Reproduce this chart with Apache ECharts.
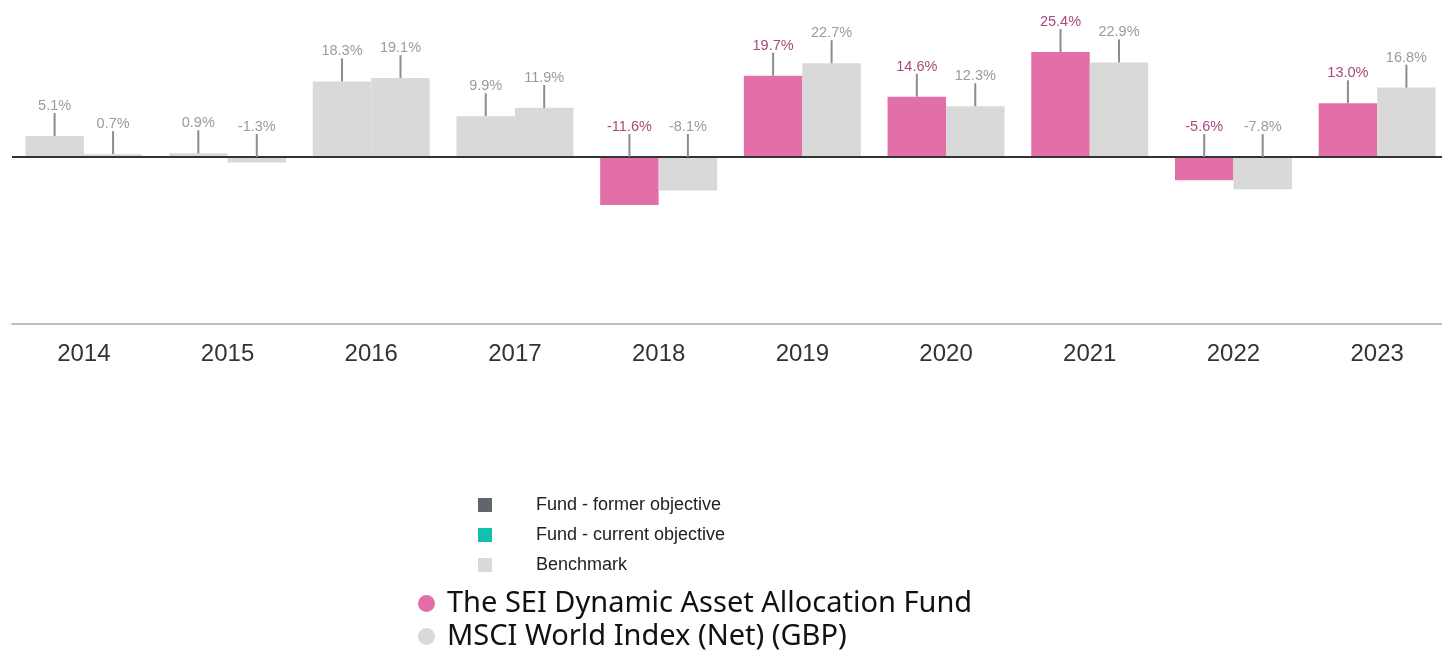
<!DOCTYPE html>
<html>
<head>
<meta charset="utf-8">
<script src="https://cdn.jsdelivr.net/npm/echarts@6/dist/echarts.min.js"></script>
<style>
  html, body { margin: 0; padding: 0; background: #fff; }
  #chart { width: 1442px; height: 651px; }
</style>
</head>
<body>
<div id="chart"></div>
<script>
var years = ['2014', '2015', '2016', '2017', '2018', '2019', '2020', '2021', '2022', '2023'];
var fundValues = [5.1, 0.9, 18.3, 9.9, -11.6, 19.7, 14.6, 25.4, -5.6, 13.0];
var benchValues = [0.7, -1.3, 19.1, 11.9, -8.1, 22.7, 12.3, 22.9, -7.8, 16.8];
var fundLaunchYear = '2018'; // before this the fund bar is drawn grey

var fundName = 'The SEI Dynamic Asset Allocation Fund';
var benchName = 'MSCI World Index (Net) (GBP)';

var pink = '#e36fa9';
var grey = '#d9d9d9';
var gapRatio = 0.186;

var chart = echarts.init(document.getElementById('chart'));

// label + leader line above each bar
var labelData = [];
years.forEach(function (y, i) {
  labelData.push([i, fundValues[i], 0]);
  labelData.push([i, benchValues[i], 1]);
});

function renderLabel(params, api) {
  var cat = api.value(0);
  var v = api.value(1);
  var side = api.value(2);
  var band = api.size([1, 0])[0];
  var pt = api.coord([cat, Math.max(v, 0)]);
  var x = pt[0] + (side === 0 ? -1 : 1) * band * (1 - gapRatio) / 4;
  var y = pt[1];
  var isPink = side === 0 && years[cat] >= fundLaunchYear;
  return {
    type: 'group',
    children: [
      { type: 'line', shape: { x1: x, y1: y, x2: x, y2: y - 23 },
        style: { stroke: '#8c8c8c', lineWidth: 2 } },
      { type: 'text', x: x, y: y - 30,
        style: { text: v.toFixed(1) + '%', fill: isPink ? '#a94a7d' : '#9b9b9b',
                 font: '14.5px "Liberation Sans", Arial', align: 'center', verticalAlign: 'middle' } }
    ]
  };
}

function seriesLegend(name, top) {
  return {
    orient: 'vertical',
    left: 418,
    top: top,
    padding: 0,
    itemWidth: 17,
    itemHeight: 17,
    selectedMode: false,
    icon: 'circle',
    textStyle: { fontSize: 29, color: '#111', fontFamily: '"Noto Sans"', padding: [0, 0, 0, 7] },
    data: [name]
  };
}

var option = {
  animation: false,
  grid: { left: 12, width: 1437, top: 0, bottom: 327, outerBoundsMode: 'none' },
  legend: [
    {
      orient: 'vertical',
      left: 478,
      top: 496,
      padding: 0,
      itemWidth: 14,
      itemHeight: 14,
      itemGap: 12,
      selectedMode: false,
      textStyle: { fontSize: 18, color: '#222', fontFamily: '"Liberation Sans", Arial', padding: [0, 0, 0, 39] },
      data: [
        { name: 'Fund - former objective', icon: 'rect' },
        { name: 'Fund - current objective', icon: 'rect' },
        { name: 'Benchmark', icon: 'rect' }
      ]
    },
    seriesLegend(fundName, 589),
    seriesLegend(benchName, 622)
  ],
  xAxis: {
    type: 'category',
    data: years,
    axisLine: { onZero: false, lineStyle: { color: '#c0c0c0', width: 2 } },
    axisTick: { show: false },
    axisLabel: { fontSize: 24, color: '#333', margin: 18, fontFamily: '"Liberation Sans", Arial' }
  },
  yAxis: {
    type: 'value',
    min: -40.4,
    max: 38,
    show: false,
    splitLine: { show: false }
  },
  series: [
    {
      name: fundName,
      type: 'bar',
      barGap: 0,
      barCategoryGap: (gapRatio * 100) + '%',
      itemStyle: { color: pink },
      data: fundValues.map(function (v, i) {
        return years[i] < fundLaunchYear ? { value: v, itemStyle: { color: grey } } : v;
      })
    },
    {
      name: benchName,
      type: 'bar',
      itemStyle: { color: grey },
      data: benchValues,
      markLine: {
        silent: true,
        symbol: 'none',
        label: { show: false },
        lineStyle: { color: '#333', width: 2, type: 'solid' },
        data: [{ yAxis: 0 }]
      }
    },
    {
      type: 'custom',
      renderItem: renderLabel,
      data: labelData,
      encode: { x: 0, y: 1 },
      clip: false,
      z: 5,
      silent: true
    },
    { name: 'Fund - former objective', type: 'line', data: [], itemStyle: { color: '#5f666e' }, lineStyle: { color: '#5f666e' } },
    { name: 'Fund - current objective', type: 'line', data: [], itemStyle: { color: '#13bfb0' }, lineStyle: { color: '#13bfb0' } },
    { name: 'Benchmark', type: 'line', data: [], itemStyle: { color: grey }, lineStyle: { color: grey } }
  ]
};

chart.setOption(option);
</script>
</body>
</html>
